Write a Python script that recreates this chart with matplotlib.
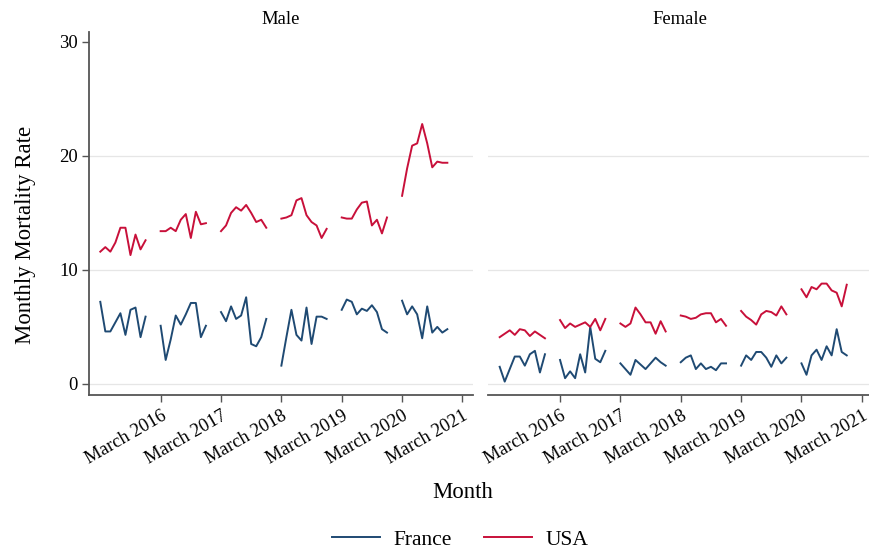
import matplotlib
matplotlib.use("Agg")
import matplotlib.pyplot as plt

plt.rcParams['font.family'] = ['Liberation Serif', 'DejaVu Serif']

# monthly mortality rate, March-December of each year (10 months per year)
years = [2015, 2016, 2017, 2018, 2019, 2020]
tick_labels = ['March 2016', 'March 2017', 'March 2018', 'March 2019', 'March 2020', 'March 2021']

male_usa = [
    11.6, 12.0, 11.6, 12.4, 13.7, 13.7, 11.3, 13.1, 11.8, 12.6,
    13.4, 13.4, 13.7, 13.4, 14.4, 14.9, 12.8, 15.1, 14.0, 14.1,
    13.4, 13.9, 15.0, 15.5, 15.2, 15.7, 15.0, 14.2, 14.4, 13.7,
    14.5, 14.6, 14.8, 16.1, 16.3, 14.8, 14.2, 13.9, 12.8, 13.6,
    14.6, 14.5, 14.5, 15.3, 15.9, 16.0, 13.9, 14.4, 13.2, 14.6,
    16.5, 18.9, 20.9, 21.1, 22.8, 21.1, 19.0, 19.5, 19.4, 19.4]

male_france = [
    7.2, 4.6, 4.6, 5.4, 6.2, 4.3, 6.5, 6.7, 4.1, 5.9,
    5.1, 2.1, 3.9, 6.0, 5.2, 6.1, 7.1, 7.1, 4.1, 5.1,
    6.3, 5.5, 6.8, 5.7, 6.0, 7.6, 3.5, 3.3, 4.1, 5.7,
    1.6, 4.1, 6.5, 4.3, 3.8, 6.7, 3.5, 5.9, 5.9, 5.7,
    6.5, 7.4, 7.2, 6.1, 6.6, 6.4, 6.9, 6.3, 4.8, 4.5,
    7.3, 6.1, 6.8, 6.1, 4.0, 6.8, 4.5, 5.0, 4.5, 4.8]

female_usa = [
    4.1, 4.4, 4.7, 4.3, 4.8, 4.7, 4.2, 4.6, 4.3, 4.0,
    5.6, 4.9, 5.3, 5.0, 5.2, 5.4, 5.0, 5.7, 4.7, 5.7,
    5.3, 5.0, 5.3, 6.7, 6.1, 5.4, 5.4, 4.4, 5.5, 4.6,
    6.0, 5.9, 5.7, 5.8, 6.1, 6.2, 6.2, 5.4, 5.7, 5.1,
    6.4, 5.9, 5.6, 5.2, 6.1, 6.4, 6.3, 6.0, 6.8, 6.1,
    8.3, 7.6, 8.5, 8.3, 8.8, 8.8, 8.2, 8.0, 6.8, 8.7]

female_france = [
    1.5, 0.2, 1.3, 2.4, 2.4, 1.6, 2.6, 2.9, 1.0, 2.6,
    2.1, 0.5, 1.1, 0.5, 2.6, 1.0, 5.0, 2.2, 1.9, 2.9,
    1.8, 1.3, 0.8, 2.1, 1.7, 1.3, 1.8, 2.3, 1.9, 1.6,
    1.9, 2.3, 2.5, 1.3, 1.8, 1.3, 1.5, 1.2, 1.8, 1.8,
    1.6, 2.5, 2.1, 2.8, 2.8, 2.3, 1.5, 2.5, 1.8, 2.3,
    1.8, 0.8, 2.5, 3.0, 2.1, 3.3, 2.5, 4.8, 2.8, 2.5]

france_col = '#1f4a73'
usa_col = '#c8103a'
axis_col = '#555555'

fig = plt.figure(figsize=(8.69, 5.52), dpi=100)
ax1 = fig.add_axes([0.1021, 0.2839, 0.4422, 0.6587])
ax2 = fig.add_axes([0.5617, 0.2839, 0.4422, 0.6587])

def draw_panel(ax, title, usa, france, show_y):
    # month index: 0 = March 2015
    for i, yr in enumerate(years):
        xs = [12 * (yr - 2015) + k for k in range(10)]
        ax.plot(xs, france[i * 10:(i + 1) * 10], color=france_col, lw=1.4)
        ax.plot(xs, usa[i * 10:(i + 1) * 10], color=usa_col, lw=1.4)
    ax.set_xlim(-2.3, 74.1)
    ax.set_ylim(-1, 30.9)
    for g in [0, 10, 20]:
        ax.axhline(g, color='#e6e6e6', lw=0.9, zorder=0)
    ax.set_xticks([12, 24, 36, 48, 60, 72])
    ax.set_xticklabels(tick_labels, rotation=30, ha='right', rotation_mode='anchor', fontsize=13.4)
    ax.set_title(title, fontsize=13.4, pad=5.5)
    for s in ['top', 'right']:
        ax.spines[s].set_visible(False)
    ax.spines['bottom'].set_color(axis_col)
    ax.spines['bottom'].set_linewidth(1.3)
    ax.tick_params(axis='x', length=5, width=1, color=axis_col, pad=4)
    if show_y:
        ax.spines['left'].set_color(axis_col)
        ax.spines['left'].set_linewidth(1.3)
        ax.set_yticks([0, 10, 20, 30])
        ax.tick_params(axis='y', length=5, width=1, color=axis_col, labelsize=13.4, pad=3)
    else:
        ax.spines['left'].set_visible(False)
        ax.set_yticks([])

draw_panel(ax1, 'Male', male_usa, male_france, True)
draw_panel(ax2, 'Female', female_usa, female_france, False)

fig.text(0.029, 0.574, 'Monthly Mortality Rate', rotation=90, ha='center', va='center', fontsize=16.4)
fig.text(0.532, 0.107, 'Month', ha='center', va='center', fontsize=16.4)

h1, = ax1.plot([], [], color=france_col, lw=1.4, label='France')
h2, = ax1.plot([], [], color=usa_col, lw=1.4, label='USA')
fig.legend(handles=[h1, h2], loc='center', bbox_to_anchor=(0.53, 0.022), ncol=2,
           frameon=False, fontsize=15.5, handlelength=2.2, handletextpad=0.65, columnspacing=1.5)

fig.savefig('out.png', dpi=100)
